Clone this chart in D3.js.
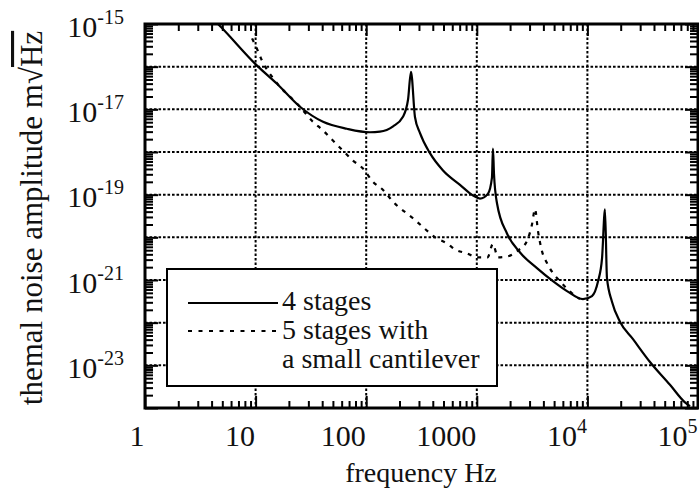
<!DOCTYPE html>
<html>
<head>
<meta charset="utf-8">
<script src="https://cdn.jsdelivr.net/npm/d3@7"></script>
<style>
  html, body { margin: 0; padding: 0; background: #fff; }
  svg { display: block; }
</style>
</head>
<body>
<svg id="chart" width="699" height="496" font-family="'Liberation Serif', 'Times New Roman', 'DejaVu Serif', serif"></svg>
<script>
// ---- data ----
const freq4 = [4.0, 4.57, 10.3, 15.6, 25.2, 40.7, 67, 108, 133, 175, 215, 239, 254, 276, 306, 377, 495, 705, 925, 1069, 1263, 1371, 1400, 1430, 1524, 1875, 2460, 3500, 4880, 6540, 9120, 11000, 12480, 13560, 14420, 15030, 16680, 19700, 25840, 36800, 55800, 76300, 84700];
const amp4  = [1.4e-15, 1.0e-15, 1.06e-16, 3.98e-17, 1.15e-17, 5.1e-18, 3.5e-18, 2.9e-18, 3.0e-18, 4.0e-18, 6.7e-18, 1.7e-17, 7.6e-17, 6.6e-18, 2.8e-18, 9.4e-19, 3.7e-19, 1.7e-19, 9.6e-20, 8.1e-20, 1.06e-19, 2.5e-19, 1.2e-18, 3.1e-19, 6.2e-20, 1.23e-20, 4.4e-21, 1.9e-21, 9.4e-22, 5.5e-22, 3.55e-22, 4.2e-22, 9.3e-22, 3.2e-21, 4.5e-20, 1.1e-21, 3.1e-22, 1.05e-22, 4.1e-23, 1.2e-23, 3.5e-24, 1.35e-24, 1.1e-24];

const freq5 = [9.3, 10.3, 11.4, 15.0, 25.2, 32.3, 40.7, 50, 61.7, 76, 93.5, 115, 142, 175, 265, 326, 419, 538, 635, 815, 1005, 1250, 1400, 1550, 1875, 2360, 2845, 3155, 3360, 3575, 3880, 4310, 4880, 5650, 7260, 8570];
const amp5  = [4.6e-16, 2.6e-16, 1.4e-16, 4.7e-17, 1.15e-17, 5.4e-18, 3.2e-18, 1.86e-18, 1.07e-18, 6.3e-19, 4.1e-19, 2.0e-19, 1.29e-19, 6.8e-20, 2.8e-20, 1.74e-20, 1.0e-20, 7.2e-21, 5.2e-21, 4.2e-21, 3.4e-21, 3.4e-21, 7.0e-21, 3.4e-21, 3.55e-21, 4.9e-21, 8.3e-21, 2.0e-20, 4.6e-20, 1.4e-20, 4.8e-21, 2.5e-21, 1.45e-21, 9.3e-22, 4.9e-22, 3.55e-22];

const xTickValues = [1, 10, 100, 1000, 1e4, 1e5];
const xTickBase   = ["1", "10", "100", "1000", "10", "10"];
const xTickExp    = ["", "", "", "", "4", "5"];
const yTickValues = [1e-15, 1e-17, 1e-19, 1e-21, 1e-23];
const yTickExp    = ["-15", "-17", "-19", "-21", "-23"];
const xGridValues = [10, 100, 1000, 1e4];
const yGridValues = [1e-16, 1e-17, 1e-18, 1e-19, 1e-20, 1e-21, 1e-22, 1e-23];
const legendLabels = ["4 stages", "5 stages with", "a small cantilever"];
const xTitle = "frequency Hz";
const yTitleMain = "themal noise amplitude m√";
const yTitleUnit = "Hz";

// ---- layout ----
const svg = d3.select("#chart");
const FONT = "'Liberation Serif', 'Times New Roman', 'DejaVu Serif', serif";
const L = 145, R = 698, T = 24, B = 408;
const x = d3.scaleLog().domain([1, 1e5]).range([L, R]);
const y = d3.scaleLog().domain([1e-24, 1e-15]).range([B, T]);

svg.append("rect").attr("width", 699).attr("height", 496).attr("fill", "#fff");

const xMajor = d3.range(0, 6).map(d => Math.pow(10, d));
const xMinor = [];
for (let d = 0; d < 5; d++) for (let k = 2; k <= 9; k++) xMinor.push(k * Math.pow(10, d));
const yMajor = d3.range(-24, -14).map(e => Math.pow(10, e));
const yMinor = [];
for (let e = -24; e < -15; e++) for (let k = 2; k <= 9; k++) yMinor.push(k * Math.pow(10, e));

// grid
const grid = svg.append("g").attr("stroke", "#000").attr("stroke-width", 2).attr("stroke-dasharray", "2.6,1.9");
grid.selectAll("line.h").data(yGridValues).join("line")
  .attr("x1", L).attr("x2", R).attr("y1", d => y(d)).attr("y2", d => y(d));
grid.selectAll("line.v").data(xGridValues).join("line")
  .attr("y1", T).attr("y2", B).attr("x1", d => x(d)).attr("x2", d => x(d));

// tick marks via axes (inward)
function tickAxis(axis, tr) {
  const g = svg.append("g").attr("transform", tr).call(axis);
  g.select(".domain").remove();
  g.selectAll("text").remove();
  g.selectAll("line").attr("stroke", "#000").attr("stroke-width", 2);
  return g;
}
tickAxis(d3.axisBottom(x).tickValues(xMinor).tickSize(-7), `translate(0,${B})`);
tickAxis(d3.axisBottom(x).tickValues(xMajor).tickSize(-12), `translate(0,${B})`);
tickAxis(d3.axisTop(x).tickValues(xMinor).tickSize(-7), `translate(0,${T})`);
tickAxis(d3.axisTop(x).tickValues(xMajor).tickSize(-12), `translate(0,${T})`);
tickAxis(d3.axisLeft(y).tickValues(yMinor).tickSize(-8), `translate(${L},0)`);
tickAxis(d3.axisLeft(y).tickValues(yMajor).tickSize(-13), `translate(${L},0)`);
tickAxis(d3.axisRight(y).tickValues(yMinor).tickSize(-8), `translate(${R},0)`);
tickAxis(d3.axisRight(y).tickValues(yMajor).tickSize(-13), `translate(${R},0)`);

// curves
svg.append("clipPath").attr("id", "clip").append("rect")
  .attr("x", L).attr("y", T).attr("width", R - L).attr("height", B - T);
const line = d3.line().x(d => x(d[0])).y(d => y(d[1])).curve(d3.curveMonotoneX);
const plot = svg.append("g").attr("clip-path", "url(#clip)");
plot.append("path").datum(freq4.map((f, i) => [f, amp4[i]]))
  .attr("d", line).attr("fill", "none").attr("stroke", "#000").attr("stroke-width", 2.2);
plot.append("path").datum(freq5.map((f, i) => [f, amp5[i]]))
  .attr("d", line).attr("fill", "none").attr("stroke", "#000").attr("stroke-width", 2.2)
  .attr("stroke-dasharray", "4,6");

// frame
svg.append("rect").attr("x", L).attr("y", T).attr("width", R - L).attr("height", B - T)
  .attr("fill", "none").attr("stroke", "#000").attr("stroke-width", 3);

// x labels
const xAx = svg.append("g").attr("transform", `translate(0,${B})`)
  .call(d3.axisBottom(x).tickValues(xTickValues).tickSize(0).tickFormat(""));
xAx.attr("font-family", FONT);
xAx.select(".domain").remove();
xAx.selectAll("line").remove();
xAx.selectAll("text").each(function(d, i) {
  const t = d3.select(this).attr("y", 38).attr("dy", null).attr("dx", -1)
    .attr("text-anchor", "end").attr("font-size", 30).attr("fill", "#111");
  t.append("tspan").text(xTickBase[i]);
  if (xTickExp[i]) t.append("tspan").attr("dy", -13).attr("font-size", 20).text(xTickExp[i]);
});

// y labels
const yAx = svg.append("g").attr("transform", `translate(${L},0)`)
  .call(d3.axisLeft(y).tickValues(yTickValues).tickSize(0).tickFormat(""));
yAx.attr("font-family", FONT);
yAx.select(".domain").remove();
yAx.selectAll("line").remove();
yAx.selectAll("text").each(function(d, i) {
  const t = d3.select(this).attr("x", -21).attr("y", 12).attr("dy", null)
    .attr("text-anchor", "end").attr("font-size", 30).attr("fill", "#111");
  t.append("tspan").text("10");
  t.append("tspan").attr("dy", -13).attr("font-size", 20).text(yTickExp[i]);
});

// titles
svg.append("text").attr("x", 421).attr("y", 482).attr("text-anchor", "middle")
  .attr("font-family", FONT).attr("fill", "#111")
  .attr("font-size", 28).text(xTitle);
const yt = svg.append("text").attr("transform", "translate(42,218) rotate(-90)")
  .attr("font-family", FONT).attr("fill", "#111")
  .attr("text-anchor", "middle").attr("font-size", 31);
yt.append("tspan").text(yTitleMain);
yt.append("tspan").style("text-decoration", "overline").text(yTitleUnit);

// legend
const lg = svg.append("g").attr("font-family", FONT);
lg.append("rect").attr("x", 167).attr("y", 269).attr("width", 330).attr("height", 117)
  .attr("fill", "#fff").attr("stroke", "#000").attr("stroke-width", 2);
lg.append("line").attr("x1", 188).attr("x2", 278).attr("y1", 303).attr("y2", 303)
  .attr("stroke", "#000").attr("stroke-width", 2);
lg.append("line").attr("x1", 188).attr("x2", 278).attr("y1", 331).attr("y2", 331)
  .attr("stroke", "#000").attr("stroke-width", 2).attr("stroke-dasharray", "4,6.5");
lg.selectAll("text").data(legendLabels).join("text")
  .attr("x", 282).attr("y", (d, i) => 310 + i * 29).attr("fill", "#111")
  .attr("font-size", 28).text(d => d);
</script>
</body>
</html>
